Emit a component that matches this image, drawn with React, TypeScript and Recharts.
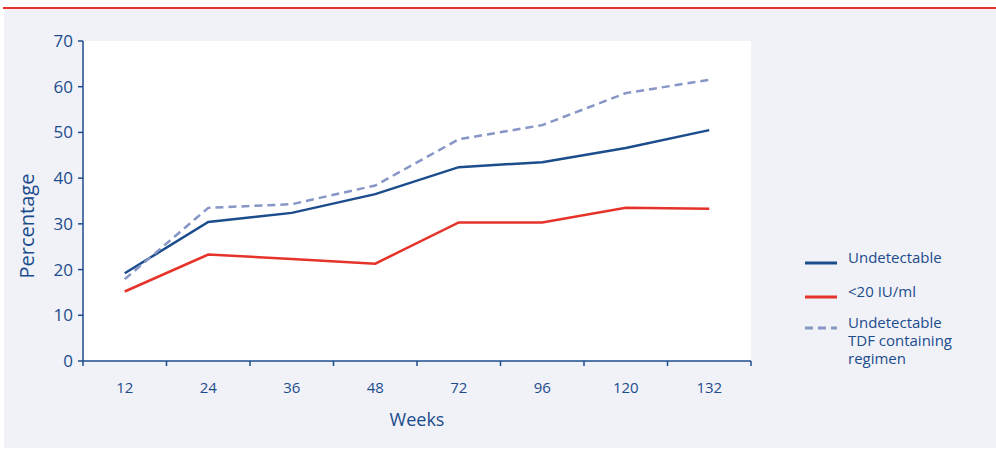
import { LineChart, Line, XAxis, YAxis, CartesianGrid } from "recharts";

const weeks = ["12", "24", "36", "48", "72", "96", "120", "132"];
const undetectable = [19.2, 30.4, 32.4, 36.5, 42.4, 43.5, 46.6, 50.5];
const below20 = [15.2, 23.3, 22.3, 21.3, 30.3, 30.3, 33.5, 33.3];
const tdfUndetectable = [17.9, 33.5, 34.3, 38.4, 48.5, 51.6, 58.6, 61.5];
const yTicks = [0, 10, 20, 30, 40, 50, 60, 70];

const NAVY = "#1b4c8c";
const RED = "#e5332a";
const LILAC = "#8796c6";
const FONT = "'Open Sans', sans-serif";

const data = weeks.map((week, i) => ({
  week,
  pos: i + 0.5,
  undetectable: undetectable[i],
  below20: below20[i],
  tdf: tdfUndetectable[i],
}));

// tick marks sit on band edges, labels in band middles
const xTicks = Array.from({ length: weeks.length * 2 + 1 }, (_, k) => k / 2);

const legendItems = [
  { name: "Undetectable", color: NAVY, dash: undefined, gap: 12 },
  { name: "<20 IU/ml", color: RED, dash: undefined, gap: 9 },
  { name: "Undetectable TDF containing regimen", color: LILAC, dash: "8 5", gap: 0 },
];

const WeekTick = ({ x, y, payload }: any) => {
  const v = payload.value;
  if (Number.isInteger(v)) {
    return <line x1={x} x2={x} y1={y - 5} y2={y} stroke={NAVY} strokeWidth={1.5} />;
  }
  return (
    <text x={x} y={y + 27} textAnchor="middle" fill={NAVY} fontSize={15} fontFamily={FONT}>
      {weeks[Math.floor(v)]}
    </text>
  );
};

const YTitle = ({ viewBox }: any) => {
  const cx = 26;
  const cy = viewBox.y + viewBox.height / 2 + 25;
  return (
    <text
      x={cx}
      y={cy}
      transform={`rotate(-90 ${cx} ${cy})`}
      textAnchor="middle"
      dominantBaseline="central"
      fill={NAVY}
      fontSize={20}
      fontFamily={FONT}
    >
      Percentage
    </text>
  );
};

const LegendBox = () => (
  <div style={{ position: "absolute", left: 805, top: 248, width: 180, fontFamily: FONT, fontSize: 15, color: NAVY }}>
    {legendItems.map((item) => (
      <div key={item.name} style={{ display: "flex", alignItems: "flex-start", marginBottom: item.gap }}>
        <svg width={32} height={18} style={{ marginTop: 4, flexShrink: 0 }}>
          <line x1={0} x2={32} y1={11} y2={11} stroke={item.color} strokeWidth={3} strokeDasharray={item.dash} />
        </svg>
        <div style={{ marginLeft: 11, width: 115, lineHeight: "18px" }}>{item.name}</div>
      </div>
    ))}
  </div>
);

const App = () => {
  return (
    <div style={{ position: "absolute", left: 0, top: 0, width: 996, height: 450, background: "#fff" }}>
      <div style={{ position: "absolute", left: 3, top: 7, width: 993, height: 2, background: RED }} />
      <div style={{ position: "absolute", left: 4, top: 9, width: 992, height: 439, background: "#f1f2f8" }} />
      <div style={{ position: "absolute", left: 0, top: 0 }}>
        <LineChart width={996} height={450} data={data} margin={{ top: 41, right: 245, bottom: 19, left: 0 }}>
          <CartesianGrid horizontal={false} vertical={false} fill="#ffffff" />
          <XAxis
            dataKey="pos"
            type="number"
            domain={[0, weeks.length]}
            ticks={xTicks}
            interval={0}
            tick={<WeekTick />}
            tickLine={false}
            tickSize={5}
            tickMargin={0}
            height={70}
            axisLine={{ stroke: NAVY, strokeWidth: 1.5 }}
            label={{ value: "Weeks", position: "insideBottom", offset: 5, fill: NAVY, fontSize: 18, fontFamily: FONT }}
          />
          <YAxis
            domain={[0, 70]}
            ticks={yTicks}
            width={83}
            tickSize={5}
            tickMargin={5}
            axisLine={{ stroke: NAVY, strokeWidth: 1.5 }}
            tickLine={{ stroke: NAVY, strokeWidth: 1.5 }}
            tick={{ fill: NAVY, fontSize: 17, fontFamily: FONT }}
            label={<YTitle />}
          />
          <Line dataKey="undetectable" name="Undetectable" stroke={NAVY} strokeWidth={2.5} dot={false} isAnimationActive={false} />
          <Line dataKey="below20" name="<20 IU/ml" stroke={RED} strokeWidth={2.5} dot={false} isAnimationActive={false} />
          <Line
            dataKey="tdf"
            name="Undetectable TDF containing regimen"
            stroke={LILAC}
            strokeWidth={2.5}
            strokeDasharray="8 5"
            dot={false}
            isAnimationActive={false}
          />
        </LineChart>
      </div>
      <LegendBox />
    </div>
  );
};

export default App;
